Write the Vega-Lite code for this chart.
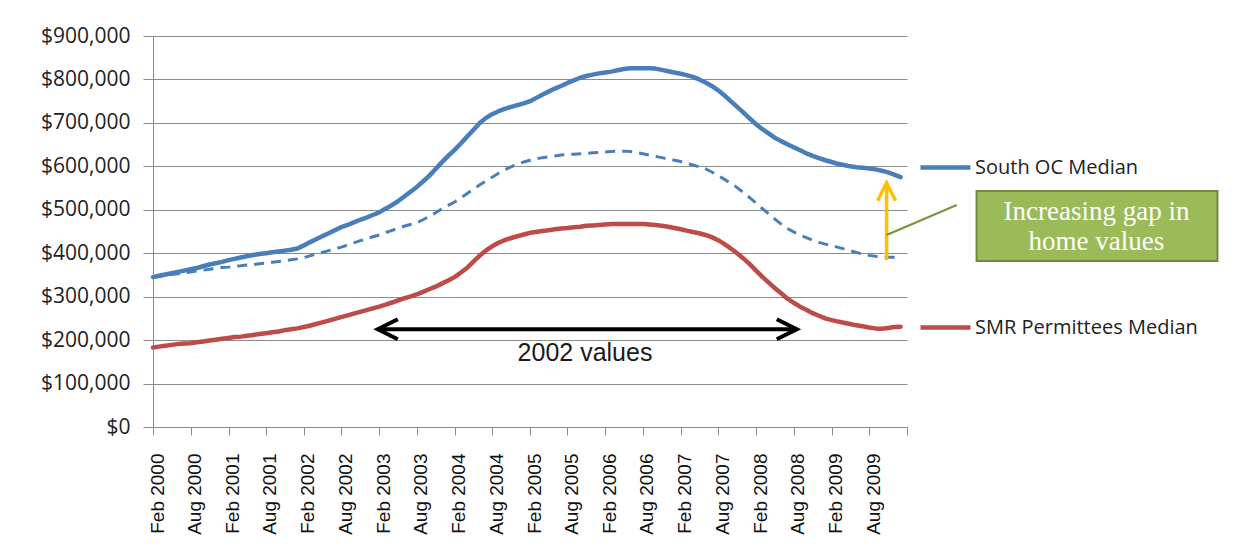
{
  "$schema": "https://vega.github.io/schema/vega-lite/v6.json",
  "width": 754,
  "height": 391,
  "autosize": {"type": "none"},
  "padding": {"left": 153, "top": 36, "right": 331, "bottom": 132},
  "background": "white",
  "config": {"view": {"stroke": null}},
  "datasets": {
    "monthly": [
      {"month":"2000-02","South OC Median":345000,"SMR Permittees Median":183000,"South OC dashed":345000},
      {"month":"2000-03","South OC Median":348000,"SMR Permittees Median":185000,"South OC dashed":347000},
      {"month":"2000-04","South OC Median":351000,"SMR Permittees Median":187000,"South OC dashed":349000},
      {"month":"2000-05","South OC Median":354000,"SMR Permittees Median":189000,"South OC dashed":351000},
      {"month":"2000-06","South OC Median":357000,"SMR Permittees Median":191000,"South OC dashed":353000},
      {"month":"2000-07","South OC Median":360000,"SMR Permittees Median":192000,"South OC dashed":355000},
      {"month":"2000-08","South OC Median":363000,"SMR Permittees Median":193000,"South OC dashed":357000},
      {"month":"2000-09","South OC Median":366000,"SMR Permittees Median":195000,"South OC dashed":359000},
      {"month":"2000-10","South OC Median":370000,"SMR Permittees Median":197000,"South OC dashed":361000},
      {"month":"2000-11","South OC Median":374000,"SMR Permittees Median":199000,"South OC dashed":363000},
      {"month":"2000-12","South OC Median":377000,"SMR Permittees Median":201000,"South OC dashed":365000},
      {"month":"2001-01","South OC Median":380000,"SMR Permittees Median":203000,"South OC dashed":367000},
      {"month":"2001-02","South OC Median":384000,"SMR Permittees Median":205000,"South OC dashed":368000},
      {"month":"2001-03","South OC Median":387000,"SMR Permittees Median":207000,"South OC dashed":370000},
      {"month":"2001-04","South OC Median":390000,"SMR Permittees Median":208000,"South OC dashed":371000},
      {"month":"2001-05","South OC Median":393000,"SMR Permittees Median":210000,"South OC dashed":373000},
      {"month":"2001-06","South OC Median":396000,"SMR Permittees Median":212000,"South OC dashed":374000},
      {"month":"2001-07","South OC Median":398000,"SMR Permittees Median":214000,"South OC dashed":376000},
      {"month":"2001-08","South OC Median":400000,"SMR Permittees Median":216000,"South OC dashed":377000},
      {"month":"2001-09","South OC Median":402000,"SMR Permittees Median":218000,"South OC dashed":379000},
      {"month":"2001-10","South OC Median":404000,"SMR Permittees Median":220000,"South OC dashed":381000},
      {"month":"2001-11","South OC Median":406000,"SMR Permittees Median":223000,"South OC dashed":383000},
      {"month":"2001-12","South OC Median":408000,"SMR Permittees Median":225000,"South OC dashed":385000},
      {"month":"2002-01","South OC Median":411000,"SMR Permittees Median":227000,"South OC dashed":387000},
      {"month":"2002-02","South OC Median":418000,"SMR Permittees Median":230000,"South OC dashed":390000},
      {"month":"2002-03","South OC Median":425000,"SMR Permittees Median":233000,"South OC dashed":394000},
      {"month":"2002-04","South OC Median":432000,"SMR Permittees Median":237000,"South OC dashed":398000},
      {"month":"2002-05","South OC Median":439000,"SMR Permittees Median":241000,"South OC dashed":402000},
      {"month":"2002-06","South OC Median":446000,"SMR Permittees Median":245000,"South OC dashed":406000},
      {"month":"2002-07","South OC Median":453000,"SMR Permittees Median":249000,"South OC dashed":410000},
      {"month":"2002-08","South OC Median":460000,"SMR Permittees Median":253000,"South OC dashed":414000},
      {"month":"2002-09","South OC Median":465000,"SMR Permittees Median":257000,"South OC dashed":419000},
      {"month":"2002-10","South OC Median":471000,"SMR Permittees Median":261000,"South OC dashed":424000},
      {"month":"2002-11","South OC Median":477000,"SMR Permittees Median":265000,"South OC dashed":429000},
      {"month":"2002-12","South OC Median":482000,"SMR Permittees Median":269000,"South OC dashed":433000},
      {"month":"2003-01","South OC Median":488000,"SMR Permittees Median":273000,"South OC dashed":438000},
      {"month":"2003-02","South OC Median":494000,"SMR Permittees Median":277000,"South OC dashed":442000},
      {"month":"2003-03","South OC Median":502000,"SMR Permittees Median":281000,"South OC dashed":447000},
      {"month":"2003-04","South OC Median":510000,"SMR Permittees Median":286000,"South OC dashed":452000},
      {"month":"2003-05","South OC Median":519000,"SMR Permittees Median":291000,"South OC dashed":457000},
      {"month":"2003-06","South OC Median":530000,"SMR Permittees Median":296000,"South OC dashed":462000},
      {"month":"2003-07","South OC Median":541000,"SMR Permittees Median":300000,"South OC dashed":466000},
      {"month":"2003-08","South OC Median":552000,"SMR Permittees Median":305000,"South OC dashed":470000},
      {"month":"2003-09","South OC Median":565000,"SMR Permittees Median":311000,"South OC dashed":477000},
      {"month":"2003-10","South OC Median":578000,"SMR Permittees Median":317000,"South OC dashed":485000},
      {"month":"2003-11","South OC Median":594000,"SMR Permittees Median":323000,"South OC dashed":493000},
      {"month":"2003-12","South OC Median":609000,"SMR Permittees Median":330000,"South OC dashed":502000},
      {"month":"2004-01","South OC Median":624000,"SMR Permittees Median":337000,"South OC dashed":510000},
      {"month":"2004-02","South OC Median":638000,"SMR Permittees Median":345000,"South OC dashed":518000},
      {"month":"2004-03","South OC Median":652000,"SMR Permittees Median":355000,"South OC dashed":527000},
      {"month":"2004-04","South OC Median":668000,"SMR Permittees Median":366000,"South OC dashed":537000},
      {"month":"2004-05","South OC Median":683000,"SMR Permittees Median":380000,"South OC dashed":547000},
      {"month":"2004-06","South OC Median":699000,"SMR Permittees Median":394000,"South OC dashed":557000},
      {"month":"2004-07","South OC Median":711000,"SMR Permittees Median":406000,"South OC dashed":566000},
      {"month":"2004-08","South OC Median":720000,"SMR Permittees Median":416000,"South OC dashed":575000},
      {"month":"2004-09","South OC Median":727000,"SMR Permittees Median":424000,"South OC dashed":584000},
      {"month":"2004-10","South OC Median":732000,"SMR Permittees Median":430000,"South OC dashed":592000},
      {"month":"2004-11","South OC Median":737000,"SMR Permittees Median":435000,"South OC dashed":599000},
      {"month":"2004-12","South OC Median":741000,"SMR Permittees Median":439000,"South OC dashed":605000},
      {"month":"2005-01","South OC Median":745000,"SMR Permittees Median":443000,"South OC dashed":610000},
      {"month":"2005-02","South OC Median":750000,"SMR Permittees Median":447000,"South OC dashed":614000},
      {"month":"2005-03","South OC Median":757000,"SMR Permittees Median":449000,"South OC dashed":617000},
      {"month":"2005-04","South OC Median":765000,"SMR Permittees Median":451000,"South OC dashed":620000},
      {"month":"2005-05","South OC Median":772000,"SMR Permittees Median":453000,"South OC dashed":622000},
      {"month":"2005-06","South OC Median":779000,"SMR Permittees Median":455000,"South OC dashed":624000},
      {"month":"2005-07","South OC Median":785000,"SMR Permittees Median":457000,"South OC dashed":626000},
      {"month":"2005-08","South OC Median":792000,"SMR Permittees Median":458000,"South OC dashed":627000},
      {"month":"2005-09","South OC Median":798000,"SMR Permittees Median":460000,"South OC dashed":628000},
      {"month":"2005-10","South OC Median":804000,"SMR Permittees Median":461000,"South OC dashed":629000},
      {"month":"2005-11","South OC Median":808000,"SMR Permittees Median":463000,"South OC dashed":630000},
      {"month":"2005-12","South OC Median":811000,"SMR Permittees Median":464000,"South OC dashed":631000},
      {"month":"2006-01","South OC Median":814000,"SMR Permittees Median":465000,"South OC dashed":632000},
      {"month":"2006-02","South OC Median":816000,"SMR Permittees Median":466000,"South OC dashed":633000},
      {"month":"2006-03","South OC Median":818000,"SMR Permittees Median":467000,"South OC dashed":634000},
      {"month":"2006-04","South OC Median":821000,"SMR Permittees Median":467000,"South OC dashed":635000},
      {"month":"2006-05","South OC Median":824000,"SMR Permittees Median":467000,"South OC dashed":635000},
      {"month":"2006-06","South OC Median":826000,"SMR Permittees Median":467000,"South OC dashed":634000},
      {"month":"2006-07","South OC Median":826000,"SMR Permittees Median":467000,"South OC dashed":632000},
      {"month":"2006-08","South OC Median":826000,"SMR Permittees Median":467000,"South OC dashed":629000},
      {"month":"2006-09","South OC Median":826000,"SMR Permittees Median":466000,"South OC dashed":626000},
      {"month":"2006-10","South OC Median":825000,"SMR Permittees Median":465000,"South OC dashed":623000},
      {"month":"2006-11","South OC Median":822000,"SMR Permittees Median":463000,"South OC dashed":620000},
      {"month":"2006-12","South OC Median":819000,"SMR Permittees Median":461000,"South OC dashed":617000},
      {"month":"2007-01","South OC Median":816000,"SMR Permittees Median":458000,"South OC dashed":614000},
      {"month":"2007-02","South OC Median":813000,"SMR Permittees Median":455000,"South OC dashed":611000},
      {"month":"2007-03","South OC Median":810000,"SMR Permittees Median":452000,"South OC dashed":607000},
      {"month":"2007-04","South OC Median":806000,"SMR Permittees Median":449000,"South OC dashed":603000},
      {"month":"2007-05","South OC Median":800000,"SMR Permittees Median":446000,"South OC dashed":599000},
      {"month":"2007-06","South OC Median":793000,"SMR Permittees Median":442000,"South OC dashed":594000},
      {"month":"2007-07","South OC Median":785000,"SMR Permittees Median":437000,"South OC dashed":587000},
      {"month":"2007-08","South OC Median":775000,"SMR Permittees Median":430000,"South OC dashed":579000},
      {"month":"2007-09","South OC Median":763000,"SMR Permittees Median":421000,"South OC dashed":570000},
      {"month":"2007-10","South OC Median":750000,"SMR Permittees Median":411000,"South OC dashed":561000},
      {"month":"2007-11","South OC Median":737000,"SMR Permittees Median":400000,"South OC dashed":551000},
      {"month":"2007-12","South OC Median":724000,"SMR Permittees Median":388000,"South OC dashed":540000},
      {"month":"2008-01","South OC Median":710000,"SMR Permittees Median":375000,"South OC dashed":528000},
      {"month":"2008-02","South OC Median":697000,"SMR Permittees Median":360000,"South OC dashed":515000},
      {"month":"2008-03","South OC Median":686000,"SMR Permittees Median":346000,"South OC dashed":503000},
      {"month":"2008-04","South OC Median":676000,"SMR Permittees Median":333000,"South OC dashed":491000},
      {"month":"2008-05","South OC Median":666000,"SMR Permittees Median":320000,"South OC dashed":479000},
      {"month":"2008-06","South OC Median":658000,"SMR Permittees Median":308000,"South OC dashed":467000},
      {"month":"2008-07","South OC Median":651000,"SMR Permittees Median":296000,"South OC dashed":457000},
      {"month":"2008-08","South OC Median":644000,"SMR Permittees Median":286000,"South OC dashed":449000},
      {"month":"2008-09","South OC Median":637000,"SMR Permittees Median":277000,"South OC dashed":442000},
      {"month":"2008-10","South OC Median":630000,"SMR Permittees Median":270000,"South OC dashed":436000},
      {"month":"2008-11","South OC Median":624000,"SMR Permittees Median":262000,"South OC dashed":430000},
      {"month":"2008-12","South OC Median":619000,"SMR Permittees Median":256000,"South OC dashed":425000},
      {"month":"2009-01","South OC Median":614000,"SMR Permittees Median":250000,"South OC dashed":421000},
      {"month":"2009-02","South OC Median":610000,"SMR Permittees Median":246000,"South OC dashed":418000},
      {"month":"2009-03","South OC Median":606000,"SMR Permittees Median":243000,"South OC dashed":414000},
      {"month":"2009-04","South OC Median":603000,"SMR Permittees Median":240000,"South OC dashed":410000},
      {"month":"2009-05","South OC Median":600000,"SMR Permittees Median":237000,"South OC dashed":406000},
      {"month":"2009-06","South OC Median":598000,"SMR Permittees Median":234000,"South OC dashed":402000},
      {"month":"2009-07","South OC Median":597000,"SMR Permittees Median":232000,"South OC dashed":398000},
      {"month":"2009-08","South OC Median":595000,"SMR Permittees Median":229000,"South OC dashed":395000},
      {"month":"2009-09","South OC Median":593000,"SMR Permittees Median":227000,"South OC dashed":393000},
      {"month":"2009-10","South OC Median":590000,"SMR Permittees Median":226000,"South OC dashed":392000},
      {"month":"2009-11","South OC Median":586000,"SMR Permittees Median":228000,"South OC dashed":391000},
      {"month":"2009-12","South OC Median":581000,"SMR Permittees Median":230000,"South OC dashed":391000},
      {"month":"2010-01","South OC Median":575000,"SMR Permittees Median":231000,"South OC dashed":391000}
    ]
  },
  "layer": [
    {
      "data": {"name": "monthly"},
      "mark": {"type": "line", "color": "#4A7EBB", "strokeWidth": 3, "strokeDash": [10, 7]},
      "encoding": {
        "x": {
          "field": "month", "type": "temporal", "title": null,
          "scale": {"type": "utc", "domain": [{"year": 2000, "month": 2, "date": 1, "utc": true}, {"year": 2010, "month": 2, "date": 1, "utc": true}]},
          "axis": {
            "values": [
              {"year": 2000, "month": 2, "date": 1, "utc": true}, {"year": 2000, "month": 8, "date": 1, "utc": true},
              {"year": 2001, "month": 2, "date": 1, "utc": true}, {"year": 2001, "month": 8, "date": 1, "utc": true},
              {"year": 2002, "month": 2, "date": 1, "utc": true}, {"year": 2002, "month": 8, "date": 1, "utc": true},
              {"year": 2003, "month": 2, "date": 1, "utc": true}, {"year": 2003, "month": 8, "date": 1, "utc": true},
              {"year": 2004, "month": 2, "date": 1, "utc": true}, {"year": 2004, "month": 8, "date": 1, "utc": true},
              {"year": 2005, "month": 2, "date": 1, "utc": true}, {"year": 2005, "month": 8, "date": 1, "utc": true},
              {"year": 2006, "month": 2, "date": 1, "utc": true}, {"year": 2006, "month": 8, "date": 1, "utc": true},
              {"year": 2007, "month": 2, "date": 1, "utc": true}, {"year": 2007, "month": 8, "date": 1, "utc": true},
              {"year": 2008, "month": 2, "date": 1, "utc": true}, {"year": 2008, "month": 8, "date": 1, "utc": true},
              {"year": 2009, "month": 2, "date": 1, "utc": true}, {"year": 2009, "month": 8, "date": 1, "utc": true},
              {"year": 2010, "month": 2, "date": 1, "utc": true}
            ],
            "tickCount": 40,
            "format": "%b %Y",
            "labelExpr": "utcyear(datum.value) == 2010 ? '' : datum.label",
            "labelAngle": -90, "labelAlign": "right", "labelBaseline": "middle",
            "labelFont": "Liberation Sans", "labelFontSize": 19, "labelColor": "#111111",
            "labelPadding": 18, "labelOffset": 4, "labelOverlap": false, "labelBound": false, "labelFlush": false,
            "tickSize": 8, "tickColor": "#8c8c8c", "domainColor": "#8c8c8c", "grid": false
          }
        },
        "y": {
          "field": "South OC dashed", "type": "quantitative", "title": null,
          "scale": {"domain": [0, 900000], "nice": false, "zero": true},
          "axis": {
            "values": [0, 100000, 200000, 300000, 400000, 500000, 600000, 700000, 800000, 900000],
            "tickCount": 20,
            "format": "$,.0f",
            "labelFont": "Open Sans", "labelFontSize": 21, "labelColor": "#222222",
            "labelPadding": 13, "tickSize": 10, "tickColor": "#8c8c8c", "domainColor": "#8c8c8c",
            "grid": true, "gridColor": "#8c8c8c", "gridWidth": 1
          }
        }
      }
    },
    {
      "data": {"name": "monthly"},
      "transform": [{"fold": ["South OC Median", "SMR Permittees Median"], "as": ["series", "value"]}],
      "mark": {"type": "line", "strokeWidth": 4.5, "strokeCap": "round", "strokeJoin": "round"},
      "encoding": {
        "x": {"field": "month", "type": "temporal", "title": null},
        "y": {"field": "value", "type": "quantitative", "title": null},
        "color": {
          "field": "series", "type": "nominal",
          "scale": {"domain": ["South OC Median", "SMR Permittees Median"], "range": ["#4A7EBB", "#BE4B48"]},
          "legend": {
            "orient": "none", "legendX": 765, "legendY": 104, "title": null, "padding": 0,
            "symbolType": "stroke", "symbolSize": 2500, "symbolStrokeWidth": 4.5,
            "labelFont": "Open Sans", "labelFontSize": 20, "labelColor": "#222222", "labelLimit": 400,
            "labelOffset": 2, "rowPadding": 122
          }
        }
      }
    },
    {
      "data": {"values": [{"from": "2003-01-25", "to": "2008-08-16", "level": 225000}]},
      "mark": {"type": "rule", "color": "#000000", "strokeWidth": 4},
      "encoding": {
        "x": {"field": "from", "type": "temporal", "title": null},
        "x2": {"field": "to"},
        "y": {"field": "level", "type": "quantitative", "title": null}
      }
    },
    {
      "data": {"values": [{"at": "2003-01-25", "level": 225000, "head": "left"}, {"at": "2008-08-16", "level": 225000, "head": "right"}]},
      "mark": {"type": "point", "filled": false, "color": "#000000", "strokeWidth": 4, "size": 1600, "opacity": 1, "strokeJoin": "miter"},
      "encoding": {
        "x": {"field": "at", "type": "temporal", "title": null},
        "y": {"field": "level", "type": "quantitative", "title": null},
        "shape": {"field": "head", "type": "nominal", "legend": null, "scale": {"domain": ["left", "right"], "range": ["M1,-0.5L0,0L1,0.5", "M-1,-0.5L0,0L-1,0.5"]}}
      }
    },
    {
      "data": {"values": [{"at": "2005-10-25", "level": 170000, "note": "2002 values"}]},
      "mark": {"type": "text", "font": "Liberation Sans", "fontSize": 25, "color": "#1a1a1a", "align": "center", "baseline": "middle"},
      "encoding": {
        "x": {"field": "at", "type": "temporal", "title": null},
        "y": {"field": "level", "type": "quantitative", "title": null},
        "text": {"field": "note"}
      }
    },
    {
      "data": {"values": [{"at": "2009-10-25", "low": 384000, "high": 560000}]},
      "mark": {"type": "rule", "color": "#FFC000", "strokeWidth": 3.5},
      "encoding": {
        "x": {"field": "at", "type": "temporal", "title": null},
        "y": {"field": "low", "type": "quantitative", "title": null},
        "y2": {"field": "high"}
      }
    },
    {
      "data": {"values": [{"at": "2009-10-25", "high": 562000}]},
      "mark": {"type": "point", "filled": false, "color": "#FFC000", "strokeWidth": 3.5, "size": 1296, "opacity": 1, "shape": "M-0.5,1L0,0L0.5,1"},
      "encoding": {
        "x": {"field": "at", "type": "temporal", "title": null},
        "y": {"field": "high", "type": "quantitative", "title": null}
      }
    },
    {
      "data": {"values": [{"from": "2009-10-25", "to": "2010-09-30", "v1": 442000, "v2": 511000}]},
      "mark": {"type": "rule", "color": "#77933C", "strokeWidth": 2},
      "encoding": {
        "x": {"field": "from", "type": "temporal", "title": null},
        "x2": {"field": "to"},
        "y": {"field": "v1", "type": "quantitative", "title": null},
        "y2": {"field": "v2"}
      }
    },
    {
      "data": {"values": [{"from": "2011-01-04", "to": "2014-03-16", "top": 543000, "bottom": 382000}]},
      "mark": {"type": "rect", "fill": "#9BBB59", "stroke": "#71893F", "strokeWidth": 2},
      "encoding": {
        "x": {"field": "from", "type": "temporal", "title": null},
        "x2": {"field": "to"},
        "y": {"field": "top", "type": "quantitative", "title": null},
        "y2": {"field": "bottom"}
      }
    },
    {
      "data": {"values": [{"at": "2012-08-07", "level": 495000, "line": "Increasing gap in"}, {"at": "2012-08-07", "level": 426000, "line": "home values"}]},
      "mark": {"type": "text", "font": "Liberation Serif", "fontSize": 27, "color": "#FFFFFF", "align": "center", "baseline": "middle"},
      "encoding": {
        "x": {"field": "at", "type": "temporal", "title": null},
        "y": {"field": "level", "type": "quantitative", "title": null},
        "text": {"field": "line"}
      }
    }
  ]
}
